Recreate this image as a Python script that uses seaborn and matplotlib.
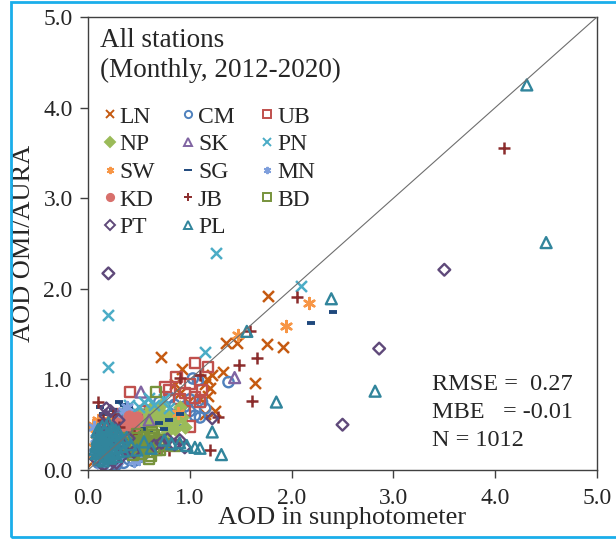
import pandas as pd
import matplotlib
matplotlib.use("Agg")
import matplotlib.pyplot as plt
from matplotlib.lines import Line2D
from matplotlib.patches import Rectangle
import seaborn as sns

# --- stations (draw order = legend order, row by row) ---
stations = ["LN", "CM", "UB", "NP", "SK", "PN", "SW", "SG", "MN", "KD", "JB", "BD", "PT", "PL"]

# --- values (x = sunphotometer, y = OMI/AURA) ---
LN_x = [1.77, 1.36, 1.46, 1.76, 1.92, 1.33, 1.64, 0.72, 0.92, 1.17, 1.20, 1.18, 1.15, 1.10, 0.90, 0.85, 0.98, 1.22, 1.25, 1.15, 0.05, 0.08, 0.12, 0.18, 0.10, 0.22]
LN_y = [1.92, 1.40, 1.40, 1.39, 1.36, 1.08, 0.96, 1.25, 1.12, 1.00, 0.90, 0.82, 0.95, 0.78, 0.85, 0.95, 0.75, 1.05, 0.65, 0.62, 0.10, 0.25, 0.15, 0.35, 0.40, 0.20]
CM_x = [1.03, 1.08, 1.38, 0.95, 1.00, 1.05, 1.10, 0.90, 1.12, 0.85, 1.00, 0.80, 0.92, 1.15, 0.10, 0.15, 0.20, 0.25, 0.30, 0.35, 0.40, 0.45, 0.50, 0.55, 0.12, 0.22, 0.28, 0.38, 0.18, 0.60, 0.70]
CM_y = [1.01, 0.99, 0.97, 0.70, 0.65, 0.60, 0.58, 0.62, 0.75, 0.72, 0.78, 0.80, 0.55, 0.68, 0.08, 0.12, 0.05, 0.10, 0.15, 0.08, 0.12, 0.10, 0.14, 0.18, 0.18, 0.15, 0.06, 0.18, 0.22, 0.65, 0.75]
UB_x = [1.05, 1.18, 0.87, 0.76, 0.41, 1.00, 1.05, 1.10, 0.95, 0.90, 0.50, 0.55, 0.65, 1.00, 0.95, 0.30, 0.25, 0.80, 1.12]
UB_y = [1.18, 1.14, 1.03, 0.92, 0.86, 0.95, 0.80, 0.75, 0.85, 0.78, 0.60, 0.65, 0.55, 0.48, 0.65, 0.62, 0.55, 0.88, 0.88]
NP_x = [0.50, 0.60, 0.70, 0.80, 0.90, 0.95, 0.85, 0.55, 0.65, 0.75, 0.88, 0.45, 0.50, 0.70, 0.60, 0.40, 0.78, 0.92, 0.58, 0.68,
        0.52, 0.62, 0.72, 0.82, 0.66, 0.56, 0.86, 0.76]
NP_y = [0.45, 0.50, 0.55, 0.60, 0.70, 0.48, 0.45, 0.35, 0.40, 0.50, 0.62, 0.40, 0.55, 0.65, 0.30, 0.32, 0.42, 0.58, 0.62, 0.33,
        0.62, 0.68, 0.72, 0.52, 0.58, 0.50, 0.55, 0.60]
SK_x = [0.52, 1.44, 0.30, 0.20, 0.15, 0.60, 0.38, 0.10, 0.25, 0.45]
SK_y = [0.86, 1.02, 0.60, 0.45, 0.30, 0.55, 0.62, 0.20, 0.35, 0.50]
PN_x = [1.26, 0.20, 0.20, 2.09, 1.15, 0.55, 0.50, 0.65, 0.40, 0.35, 0.30, 0.75, 0.45, 0.60, 0.25, 0.15, 0.80]
PN_y = [2.40, 1.71, 1.14, 2.03, 1.30, 0.75, 0.70, 0.72, 0.72, 0.68, 0.60, 0.78, 0.65, 0.80, 0.55, 0.45, 0.68]
SW_x = [2.17, 1.94, 1.47, 0.88, 0.05, 0.08, 0.10, 0.12, 0.15, 0.18, 0.06, 0.20, 0.25, 0.04, 0.09, 0.14, 0.30]
SW_y = [1.84, 1.59, 1.49, 0.63, 0.50, 0.40, 0.55, 0.30, 0.45, 0.52, 0.25, 0.38, 0.55, 0.15, 0.20, 0.35, 0.50]
SG_x = [2.41, 2.19, 0.30, 0.35, 0.25, 0.40, 0.70, 0.55, 0.80, 0.90, 0.42, 0.50, 0.60, 0.45, 0.15, 0.20, 0.65, 0.75, 0.35, 0.12]
SG_y = [1.74, 1.62, 0.75, 0.72, 0.66, 0.70, 0.52, 0.45, 0.55, 0.62, 0.56, 0.60, 0.42, 0.36, 0.62, 0.50, 0.35, 0.45, 0.48, 0.70]
MN_x = [0.05, 0.08, 0.10, 0.12, 0.15, 0.18, 0.20, 0.25, 0.30, 0.35, 0.40, 0.06, 0.09, 0.14, 0.22, 0.28, 0.33, 0.45, 0.50, 0.38]
MN_y = [0.20, 0.35, 0.10, 0.45, 0.25, 0.08, 0.40, 0.15, 0.55, 0.65, 0.60, 0.48, 0.28, 0.05, 0.30, 0.10, 0.20, 0.10, 0.12, 0.70]
KD_x = [0.42, 0.35, 0.30, 0.45, 0.25, 0.38, 0.40, 0.32, 0.28, 0.20, 0.22, 0.48]
KD_y = [0.55, 0.50, 0.45, 0.48, 0.40, 0.42, 0.60, 0.38, 0.52, 0.45, 0.35, 0.58]
JB_x = [4.09, 2.05, 1.59, 1.66, 1.48, 1.61, 1.28, 1.20, 0.90, 1.10, 0.10, 0.75, 0.70, 0.30, 0.15, 0.25, 0.45, 0.80, 0.12, 0.35]
JB_y = [3.55, 1.91, 1.53, 1.24, 1.16, 0.76, 0.59, 0.22, 1.01, 1.05, 0.75, 0.27, 0.24, 0.48, 0.55, 0.62, 0.40, 0.22, 0.30, 0.35]
BD_x = [0.67, 0.60, 0.40, 0.45, 0.50, 0.55, 0.60, 0.65, 0.70, 0.75, 0.45, 0.50, 0.55, 0.60, 0.65, 0.48, 0.53, 0.58, 0.42, 0.62, 0.68, 0.85, 0.38, 0.52, 0.57,
        0.46, 0.51, 0.56, 0.61, 0.66, 0.71, 0.44, 0.63]
BD_y = [0.86, 0.12, 0.25, 0.20, 0.28, 0.22, 0.30, 0.26, 0.33, 0.28, 0.35, 0.18, 0.36, 0.20, 0.38, 0.40, 0.24, 0.32, 0.30, 0.16, 0.22, 0.27, 0.35, 0.31, 0.27,
        0.26, 0.32, 0.25, 0.35, 0.30, 0.22, 0.17, 0.42]
PT_x = [0.20, 3.50, 2.86, 2.50, 1.22, 0.95, 0.90, 0.85, 0.78, 0.72, 0.65, 0.18, 0.22, 0.12, 0.15, 0.25, 0.30, 0.35, 0.10, 0.08, 0.20, 0.28, 0.40, 0.17, 0.13, 0.24, 0.33, 0.45, 0.19, 0.16]
PT_y = [2.17, 2.21, 1.34, 0.50, 0.57, 0.25, 0.33, 0.28, 0.34, 0.30, 0.27, 0.68, 0.65, 0.40, 0.05, 0.10, 0.55, 0.22, 0.25, 0.12, 0.30, 0.08, 0.35, 0.60, 0.18, 0.45, 0.15, 0.20, 0.03, 0.50]
PL_x = [4.31, 4.50, 2.82, 2.39, 1.85, 1.56, 1.22, 1.31, 1.05, 1.10, 0.97, 0.90, 0.82, 0.75, 0.62, 0.55, 0.48, 0.42, 0.38, 0.35, 0.32, 0.30, 0.28, 0.26, 0.25, 0.24, 0.22, 0.21, 0.20, 0.19,
        0.18, 0.17, 0.16, 0.15, 0.14, 0.13, 0.12, 0.11, 0.10, 0.09, 0.08, 0.07, 0.20, 0.18, 0.15, 0.12, 0.10, 0.25, 0.22, 0.16, 0.13, 0.28, 0.33,
        0.09, 0.11, 0.14, 0.17, 0.19, 0.21, 0.23, 0.27, 0.30, 0.12, 0.15, 0.18, 0.24, 0.08, 0.35]
PL_y = [4.25, 2.51, 0.87, 1.89, 0.75, 1.53, 0.42, 0.17, 0.25, 0.24, 0.27, 0.30, 0.29, 0.33, 0.24, 0.31, 0.22, 0.28, 0.36, 0.21, 0.30, 0.42, 0.25, 0.33, 0.18, 0.46, 0.28, 0.38, 0.52, 0.22,
        0.35, 0.15, 0.44, 0.27, 0.32, 0.20, 0.40, 0.12, 0.26, 0.34, 0.18, 0.23, 0.14, 0.30, 0.10, 0.37, 0.45, 0.39, 0.13, 0.24, 0.29, 0.15, 0.26,
        0.42, 0.20, 0.48, 0.26, 0.40, 0.16, 0.34, 0.44, 0.20, 0.30, 0.22, 0.48, 0.20, 0.28, 0.33]

ticks = [0.0, 1.0, 2.0, 3.0, 4.0, 5.0]
tick_labels = ["0.0", "1.0", "2.0", "3.0", "4.0", "5.0"]
stats_lines = ["RMSE =  0.27", "MBE   = -0.01", "N = 1012"]

# --- look of each station: color, marker, open/filled ---
style = {
    "LN": ("#c55a11", "x", False),
    "CM": ("#4f81bd", "o", True),
    "UB": ("#c0504d", "s", True),
    "NP": ("#9bbb59", "D", False),
    "SK": ("#8064a2", "^", True),
    "PN": ("#4bacc6", "x", False),
    "SW": ("#f79646", (6, 2, 0), False),
    "SG": ("#1f497d", "_", False),
    "MN": ("#7f9fdc", (6, 2, 0), False),
    "KD": ("#d8706c", "o", False),
    "JB": ("#8b2c2c", "+", False),
    "BD": ("#77933c", "s", True),
    "PT": ("#5f497a", "D", True),
    "PL": ("#31859c", "^", True),
}
sizes = {"o": 55, "s": 55, "^": 62, "D": 36, "x": 62, "+": 70, "_": 40}

data = {"LN": (LN_x, LN_y), "CM": (CM_x, CM_y), "UB": (UB_x, UB_y), "NP": (NP_x, NP_y),
        "SK": (SK_x, SK_y), "PN": (PN_x, PN_y), "SW": (SW_x, SW_y), "SG": (SG_x, SG_y),
        "MN": (MN_x, MN_y), "KD": (KD_x, KD_y), "JB": (JB_x, JB_y), "BD": (BD_x, BD_y),
        "PT": (PT_x, PT_y), "PL": (PL_x, PL_y)}

frames = []
for st in stations:
    xs, ys = data[st]
    frames.append(pd.DataFrame({"station": st, "sun": xs, "omi": ys}))
df = pd.concat(frames, ignore_index=True)

sns.set_style("ticks")
plt.rcParams["font.family"] = ["Liberation Serif", "DejaVu Serif"]

fig = plt.figure(figsize=(6.16, 5.39), dpi=100)
ax = fig.add_axes([0.1429, 0.128, 0.8263, 0.8405])

for st in stations:
    col, mk, hollow = style[st]
    sub = df[df["station"] == st]
    key = mk if isinstance(mk, str) else "x"
    s = sizes[key]
    if hollow:
        sns.scatterplot(data=sub, x="sun", y="omi", ax=ax, marker=mk, s=s,
                        facecolors="none", edgecolor=col, linewidth=1.7)
    elif mk in ("o", "D"):
        sns.scatterplot(data=sub, x="sun", y="omi", ax=ax, marker=mk, s=s + 12,
                        color=col, edgecolor=col, linewidth=0.5)
    else:
        lw = 2.8 if mk == "_" else 1.8
        sns.scatterplot(data=sub, x="sun", y="omi", ax=ax, marker=mk, s=s,
                        color=col, linewidth=lw)

# 1:1 line
ax.plot([0, 5], [0, 5], color="#6e6e6e", lw=0.8, zorder=5)

ax.set_xlim(0, 5)
ax.set_ylim(0, 5)
ax.set_xticks(ticks)
ax.set_yticks(ticks)
ax.set_xticklabels(tick_labels)
ax.set_yticklabels(tick_labels)
ax.tick_params(axis="both", labelsize=17, length=6, width=1, color="#404040",
               direction="out", pad=5)
ax.tick_params(axis="x", pad=7)
for sp in ax.spines.values():
    sp.set_visible(True)
    sp.set_color("#404040")
    sp.set_linewidth(1.0)

ax.set_xlabel("AOD in sunphotometer", fontsize=19)
ax.xaxis.set_label_coords(0.5, -0.082)
ax.set_ylabel("AOD OMI/AURA", fontsize=19)
ax.yaxis.set_label_coords(-0.104, 0.5)

ax.text(0.024, 0.949, "All stations", transform=ax.transAxes, fontsize=19.5, va="center")
ax.text(0.024, 0.883, "(Monthly, 2012-2020)", transform=ax.transAxes, fontsize=19.5, va="center")

# legend: matplotlib fills columns first, so reorder to read row by row
order = ["LN", "NP", "SW", "KD", "PT", "CM", "SK", "SG", "JB", "PL", "UB", "PN", "MN", "BD"]
handles = []
for st in order:
    col, mk, hollow = style[st]
    ms = 5.2 if mk != "D" else 4.6
    handles.append(Line2D([], [], linestyle="none", marker=mk, color=col,
                          markerfacecolor="none" if hollow else col,
                          markeredgecolor=col, markersize=ms, markeredgewidth=1.4))
ax.legend(handles, order, loc="upper left", bbox_to_anchor=(-0.004, 0.840), ncol=3,
          frameon=False, fontsize=17, handlelength=0.6, handletextpad=0.13,
          columnspacing=1.08, labelspacing=0.26, borderaxespad=0.3)

for i, line in enumerate(stats_lines):
    ax.text(0.676, 0.188 - i * 0.061, line, transform=ax.transAxes, fontsize=17.5, va="center")

# light blue frame around the picture
fig.patches.append(Rectangle((11 / 616, 2 / 539), 1.0, 535 / 539, transform=fig.transFigure,
                             fill=False, edgecolor="#1aaeea", linewidth=2))

fig.savefig("out.png", dpi=100)
